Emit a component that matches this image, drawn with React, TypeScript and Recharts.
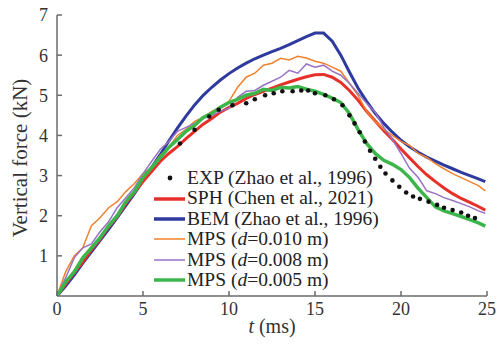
import React from "react";
import { ComposedChart, Line, Scatter, XAxis, YAxis, Legend } from "recharts";

const SERIF = "'Liberation Serif', 'Times New Roman', serif";
const AXIS = "#6b6b6b";

// time grid (ms) shared by the simulated curves
const TIME = [0, 0.5, 1, 1.5, 2, 2.5, 3, 3.5, 4, 4.5, 5, 5.5, 6, 6.5, 7, 7.5, 8, 8.5, 9, 9.5, 10, 10.5, 11, 11.5, 12, 12.5, 13, 13.5, 14, 14.5, 15, 15.5, 16, 16.5, 17, 17.5, 18, 18.5, 19, 19.5, 20, 20.5, 21, 21.5, 22, 22.5, 23, 23.5, 24, 24.5, 24.9];

const BEM = [0, 0.25, 0.52, 0.82, 1.1, 1.38, 1.66, 1.95, 2.25, 2.55, 2.87, 3.2, 3.52, 3.86, 4.18, 4.48, 4.76, 5.0, 5.2, 5.38, 5.54, 5.68, 5.8, 5.91, 6.0, 6.09, 6.17, 6.26, 6.36, 6.46, 6.55, 6.55, 6.35, 6.0, 5.58, 5.18, 4.85, 4.55, 4.3, 4.08, 3.88, 3.72, 3.58, 3.46, 3.36, 3.26, 3.17, 3.08, 3.0, 2.92, 2.85];
const SPH = [0, 0.3, 0.58, 0.85, 1.15, 1.42, 1.72, 1.98, 2.3, 2.58, 2.85, 3.1, 3.35, 3.55, 3.72, 3.92, 4.1, 4.28, 4.42, 4.58, 4.7, 4.8, 4.92, 5.02, 5.1, 5.18, 5.26, 5.33, 5.4, 5.46, 5.51, 5.52, 5.45, 5.32, 5.12, 4.88, 4.6, 4.36, 4.12, 3.9, 3.66, 3.44, 3.22, 3.02, 2.85, 2.69, 2.55, 2.43, 2.33, 2.23, 2.14];
const MPS10 = [0, 0.6, 1.0, 1.2, 1.75, 1.95, 2.2, 2.35, 2.6, 2.8, 3.05, 3.2, 3.5, 3.7, 4.0, 4.15, 4.35, 4.45, 4.6, 4.7, 4.85, 5.2, 5.45, 5.55, 5.75, 5.8, 5.92, 5.88, 5.97, 5.93, 5.85, 5.8, 5.7, 5.6, 5.3, 5.0, 4.6, 4.35, 4.15, 4.0, 3.85, 3.75, 3.55, 3.45, 3.3, 3.17, 3.05, 2.95, 2.85, 2.75, 2.62];
const MPS8 = [0, 0.45, 0.95, 1.2, 1.3, 1.6, 1.85, 2.2, 2.45, 2.7, 3.05, 3.35, 3.65, 3.85, 4.1, 4.2, 4.3, 4.42, 4.5, 4.6, 4.68, 4.95, 5.1, 5.12, 5.25, 5.35, 5.45, 5.62, 5.55, 5.78, 5.7, 5.75, 5.6, 5.5, 5.3, 5.05, 4.8, 4.58, 4.2, 3.9, 3.55, 3.18, 2.95, 2.62, 2.55, 2.45, 2.38, 2.3, 2.22, 2.12, 2.06];
const MPS5 = [0, 0.35, 0.6, 0.95, 1.2, 1.45, 1.75, 2.0, 2.35, 2.6, 2.95, 3.2, 3.45, 3.7, 3.9, 4.1, 4.25, 4.45, 4.55, 4.7, 4.82, 4.9, 5.0, 5.05, 5.15, 5.12, 5.2, 5.18, 5.22, 5.15, 5.1, 5.02, 4.93, 4.82, 4.55, 4.15, 3.8, 3.55, 3.38, 3.28, 3.15, 2.95, 2.68, 2.45, 2.22, 2.12, 2.05, 1.98, 1.9, 1.82, 1.74];

// experiment (Zhao et al., 1996)
const EXP_T = [7.15, 8.0, 8.85, 9.4, 10.2, 11.0, 11.5, 12.1, 12.6, 13.1, 13.7, 14.2, 14.6, 15.0, 15.6, 16.1, 16.6, 17.0, 17.3, 17.6, 17.9, 18.2, 18.5, 18.8, 19.1, 19.5, 19.9, 20.3, 20.7, 21.1, 21.6, 22.1, 22.5, 23.0, 23.5, 23.9, 24.3];
const EXP_F = [3.8, 4.14, 4.47, 4.64, 4.75, 4.8, 4.9, 5.0, 5.05, 5.1, 5.1, 5.12, 5.12, 5.05, 5.0, 4.9, 4.75, 4.5, 4.3, 4.08, 3.85, 3.62, 3.42, 3.22, 3.05, 2.88, 2.72, 2.58, 2.48, 2.42, 2.35, 2.27, 2.2, 2.14, 2.08, 2.0, 1.94];

const X_TICKS = [0, 5, 10, 15, 20, 25];
const Y_TICKS = [1, 2, 3, 4, 5, 6, 7];

const rows = (ts: number[], vs: number[]) => ts.map((t, i) => ({ t, f: vs[i] }));

const SERIES = [
  { key: "bem", values: BEM, color: "#2f3a9f", width: 3 },
  { key: "sph", values: SPH, color: "#e8302a", width: 3 },
  { key: "mps10", values: MPS10, color: "#f0822e", width: 1.5 },
  { key: "mps8", values: MPS8, color: "#9a72c4", width: 1.5 },
  { key: "mps5", values: MPS5, color: "#3cb64a", width: 3.5 },
];

const LEGEND_ITEMS = [
  { label: "EXP (Zhao et al., 1996)", color: "#111", width: 0, dot: true },
  { label: "SPH (Chen et al., 2021)", color: "#e8302a", width: 3.5 },
  { label: "BEM (Zhao et al., 1996)", color: "#2f3a9f", width: 3.5 },
  { label: "MPS (", d: "=0.010 m)", color: "#f0822e", width: 1.5 },
  { label: "MPS (", d: "=0.008 m)", color: "#9a72c4", width: 1.5 },
  { label: "MPS (", d: "=0.005 m)", color: "#3cb64a", width: 3.5 },
];

function renderLegend() {
  return (
    <div style={{ fontFamily: SERIF, fontSize: 19.5, color: "#222", lineHeight: "20.4px" }}>
      {LEGEND_ITEMS.map((it, i) => (
        <div key={i} style={{ display: "flex", alignItems: "center", height: 20.4, whiteSpace: "nowrap" }}>
          <svg width={32} height={10} style={{ marginRight: 1 }}>
            {it.dot ? (
              <circle cx={16} cy={5} r={2.4} fill={it.color} />
            ) : (
              <line x1={0} x2={31} y1={5} y2={5} stroke={it.color} strokeWidth={it.width} />
            )}
          </svg>
          <span>
            {it.label}
            {it.d && (
              <>
                <i>d</i>
                {it.d}
              </>
            )}
          </span>
        </div>
      ))}
    </div>
  );
}

const tickStyle = { fill: "#333", fontSize: 18, fontFamily: SERIF };

export default function App() {
  return (
    <div style={{ position: "absolute", left: 0, top: 0, background: "#fff" }}>
      <ComposedChart width={498} height={349} margin={{ top: 15, right: 11, bottom: 52, left: 56 }}>
        <XAxis
          dataKey="t"
          type="number"
          domain={[0, 25]}
          ticks={X_TICKS}
          interval={0}
          height={1}
          tickSize={-5}
          tickMargin={11}
          stroke={AXIS}
          strokeWidth={1.5}
          tick={tickStyle}
          allowDataOverflow
          label={{
            position: "bottom",
            content: ({ viewBox }: any) => (
              <text x={viewBox.x + viewBox.width / 2} y={333} textAnchor="middle" fontFamily={SERIF} fontSize={20} fill="#333">
                <tspan fontStyle="italic">t</tspan> (ms)
              </text>
            ),
          }}
        />
        <YAxis
          type="number"
          domain={[0, 7]}
          ticks={Y_TICKS}
          interval={0}
          width={1}
          tickSize={-5}
          tickMargin={14}
          stroke={AXIS}
          strokeWidth={1.5}
          tick={tickStyle}
          allowDataOverflow
          label={{
            position: "left",
            content: () => (
              <text
                x={20}
                y={158}
                transform="rotate(-90, 20, 158)"
                textAnchor="middle"
                dominantBaseline="central"
                fontFamily={SERIF}
                fontSize={21}
                fill="#333"
              >
                Vertical force (kN)
              </text>
            ),
          }}
        />
        {SERIES.map((s) => (
          <Line
            key={s.key}
            data={rows(TIME, s.values)}
            dataKey="f"
            type="linear"
            stroke={s.color}
            strokeWidth={s.width}
            dot={false}
            activeDot={false}
            isAnimationActive={false}
          />
        ))}
        <Scatter
          data={rows(EXP_T, EXP_F)}
          dataKey="f"
          isAnimationActive={false}
          shape={(p: any) => <circle cx={p.cx} cy={p.cy} r={2.3} fill="#111" />}
        />
        <Legend
          layout="horizontal"
          verticalAlign="middle"
          align="center"
          content={renderLegend}
          wrapperStyle={{ position: "absolute", left: 154, top: 168, width: 260, height: 124 }}
        />
      </ComposedChart>
    </div>
  );
}
